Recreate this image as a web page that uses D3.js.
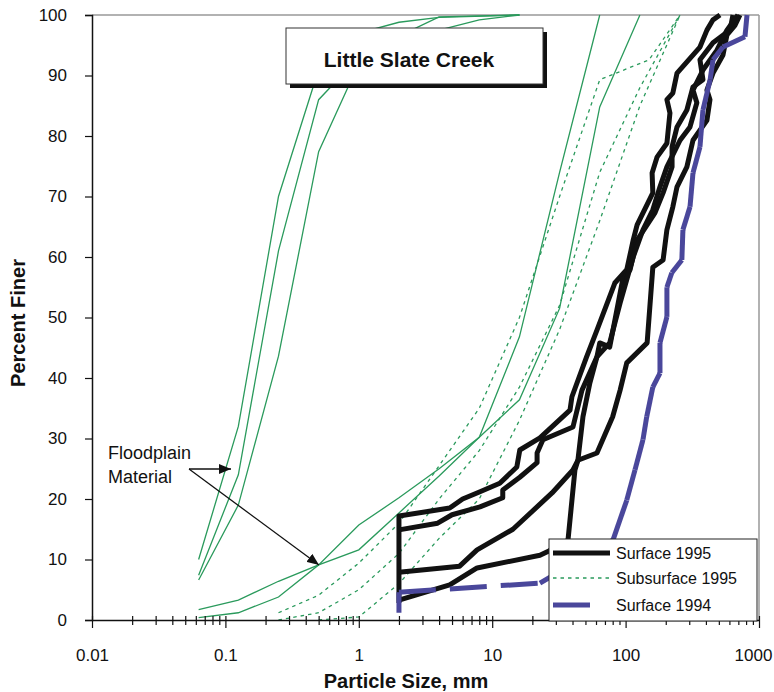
<!DOCTYPE html>
<html>
<head>
<meta charset="utf-8">
<script src="https://cdn.jsdelivr.net/npm/d3@7/dist/d3.min.js"></script>
<style>
  body { margin: 0; background: #fff; }
  svg { font-family: "Liberation Sans", Arial, sans-serif; }
</style>
</head>
<body>
<script>
// particle size (mm) vs percent finer

// floodplain material, fine (solid green)
var floodA = [[0.063,10],[0.125,32],[0.25,70],[0.5,91],[1,97],[2,98.8],[4,99.6],[16,100]];
var floodB = [[0.063,7.4],[0.125,24],[0.25,61],[0.5,86],[1,93],[2,96.5],[4,99.7],[16,100]];
var floodC = [[0.063,6.6],[0.125,19],[0.25,43.6],[0.5,77.4],[1,92],[2,95],[4,97.5],[8,99.2],[16,100]];
// floodplain material, coarse (solid green)
var floodD = [[0.063,1.7],[0.125,3.3],[0.25,6.4],[0.5,9.1],[1,15.7],[2,20.2],[4,25],[8,30.2],[16,46.8],[32,74],[64,100]];
var floodE = [[0.063,0.4],[0.125,1.2],[0.25,3.8],[0.5,9.1],[1,11.6],[2,17.7],[4,23.8],[8,30.2],[16,36.4],[32,51.5],[64,84.8],[128,100]];

// subsurface 1995 (dashed green)
var sub1 = [[0.25,1.2],[0.5,4.1],[1,9.4],[2,16],[4,25.5],[8,35],[16,50],[32,70],[64,89.3],[150,92.6],[256,100]];
var sub2 = [[0.25,0],[0.5,1.2],[1,5],[2,11],[4,20],[8,28],[16,38.5],[32,52],[64,74],[128,88],[256,100]];
var sub3 = [[0.5,0],[1,0.5],[2,6],[4,13.5],[8,20],[16,33],[32,48],[64,66],[128,85],[256,100]];

// surface 1995 (thick black)
var surf95a = [[2,2.8],[2,17.2],[4.8,18.5],[6,20],[8.1,21.2],[11.4,22.6],[15.3,25.3],[16.1,28.1],[22.8,30.1],[38.3,34.7],[39.6,36.9],[51,43.5],[61,47.9],[83,55.7],[102,57.9],[110,61.2],[114,62.8],[122,65.3],[160,70.6],[158,73.9],[172,76.5],[204,78.8],[215,83.8],[204,86],[226,87.1],[243,90.4],[361,94.7],[407,97.5],[452,99.2],[510,100]];
var surf95b = [[2,14.9],[3.9,16],[5,17.4],[8.1,18.7],[12,20.2],[12,21.5],[16.1,23.6],[21.7,26],[21.7,27.6],[24,29.8],[40.3,31.9],[47.1,38],[61,43.5],[64,45.8],[76,45.1],[95,56.2],[108,57.9],[122,62.8],[166,67.3],[191,70.6],[223,74.9],[223,78.2],[243,81.5],[288,84.3],[320,88.1],[380,89.3],[361,92.6],[452,95.4],[606,97.5],[638,100]];
var surf95c = [[2,7.9],[5.7,8.9],[7.7,11.6],[14.3,15],[28.1,21],[40.3,24.8],[43.9,26.4],[61,27.6],[80,33.6],[91,38],[102,42.5],[145,45.8],[160,58.3],[191,59.5],[204,64.5],[226,68.3],[243,71.6],[288,74.9],[320,79.3],[407,82.6],[429,86],[407,87.6],[452,90.4],[537,93.4],[575,96.7],[660,98.3],[720,100]];
var surf95d = [[2,3.3],[4.8,5.8],[7.7,8.6],[22.8,10.7],[26.6,11.4],[37,13.2],[39.6,19.8],[41.7,24.8],[43.9,26.4],[47.9,33.6],[54,39.2],[61,43.5],[76,45.8],[91,52.4],[114,60],[135,64.5],[160,67.8],[181,71.6],[204,74.9],[256,79.3],[304,81.5],[342,85.5],[320,87.6],[380,90.9],[484,94.2],[575,97.5],[695,100]];

// surface 1994 (thick blue, dashed)
var surf94 = [[2,1.2],[2,4.6],[22.8,6.1],[80.4,13.2],[102,19.8],[117.6,24.8],[135,29.8],[144,33.6],[160,38.5],[181,40.8],[181,45.8],[204,50.1],[204,55],[222,57.4],[264,59.5],[269,64.5],[304,68.3],[320,73.9],[361,78.2],[380,84.3],[430,89.3],[452,92.6],[537,94.7],[785,96.4],[813,100]];

var yTicks = [0,10,20,30,40,50,60,70,80,90,100];
var xLabels = [0.01,0.1,1,10,100,1000];
var legendNames = ["Surface 1995","Subsurface 1995","Surface 1994"];

var W = 774, H = 692;
var green = "#2a9a5c", blue = "#4a479b", black = "#111";
var font = "'Liberation Sans', Arial, sans-serif";

var svg = d3.select("body").append("svg").attr("width", W).attr("height", H);

var x = d3.scaleLog().domain([0.01, 1000]).range([92, 759]);
var y = d3.scaleLinear().domain([0, 100]).range([620, 15]);

// plot frame (grey top/right)
svg.append("line").attr("x1",92).attr("x2",759).attr("y1",15).attr("y2",15)
   .attr("stroke","#999").attr("stroke-width",1.5);
svg.append("line").attr("x1",759).attr("x2",759).attr("y1",15).attr("y2",620)
   .attr("stroke","#999").attr("stroke-width",1.5);

svg.append("clipPath").attr("id","clip").append("rect")
   .attr("x",92).attr("y",13).attr("width",668).attr("height",609);

var line = d3.line().x(function(d){ return x(d[0]); }).y(function(d){ return y(d[1]); });
var g = svg.append("g").attr("clip-path","url(#clip)");

[floodA, floodB, floodC, floodD, floodE].forEach(function(s){
  g.append("path").attr("d", line(s)).attr("fill","none")
   .attr("stroke", green).attr("stroke-width", 1.3);
});
[sub1, sub2, sub3].forEach(function(s){
  g.append("path").attr("d", line(s)).attr("fill","none")
   .attr("stroke", green).attr("stroke-width", 1.3).attr("stroke-dasharray","3.5,4");
});
[surf95a, surf95b, surf95c, surf95d].forEach(function(s){
  g.append("path").attr("d", line(s)).attr("fill","none")
   .attr("stroke", black).attr("stroke-width", 5).attr("stroke-linejoin","round");
});
// blue: the dash pattern only shows on the long steps, short steps look solid
for (var i = 1; i < surf94.length; i++) {
  var a = surf94[i-1], b = surf94[i];
  var len = Math.hypot(x(b[0]) - x(a[0]), y(b[1]) - y(a[1]));
  g.append("path").attr("d", line([a, b])).attr("fill","none")
   .attr("stroke", blue).attr("stroke-width", 5)
   .attr("stroke-dasharray", len > 60 ? "37,14" : null);
}

// y axis
var yAxis = svg.append("g").attr("transform","translate(92,0)")
  .call(d3.axisLeft(y).tickValues(yTicks).tickSize(7).tickPadding(18));
yAxis.select(".domain").attr("stroke","#111").attr("stroke-width",1.5);
yAxis.selectAll(".tick line").attr("stroke","#111").attr("stroke-width",1.2);
yAxis.selectAll("text").attr("font-size",17).attr("fill","#111").attr("font-family",font);

// x axis, log ticks crossing the axis
var minor = [];
for (var e = -2; e < 3; e++) for (var k = 1; k < 10; k++) minor.push(k * Math.pow(10, e));
minor.push(1000);
var xAxis = svg.append("g").attr("transform","translate(0,620)")
  .call(d3.axisBottom(x).tickValues(minor).tickSize(0).tickPadding(0)
        .tickFormat(function(d){ return xLabels.indexOf(d) >= 0 ? d3.format("~g")(d) : ""; }));
xAxis.select(".domain").attr("stroke","#111").attr("stroke-width",1.5);
xAxis.selectAll(".tick line").remove();
xAxis.selectAll(".tick").append("line")
  .attr("y1",-4).attr("y2", function(d){ return xLabels.indexOf(d) >= 0 ? 8 : 5; })
  .attr("stroke","#111").attr("stroke-width",1.2);
xAxis.selectAll("text").attr("y",41).attr("dy",null).attr("font-size",17).attr("fill","#111")
  .attr("font-family",font)
  .attr("x", function(d){ return d === 1000 ? -6 : 0; });

// axis titles
svg.append("text").attr("x",406).attr("y",688).attr("text-anchor","middle")
   .attr("font-size",20).attr("font-weight","bold").attr("fill","#111").text("Particle Size, mm");
svg.append("text").attr("transform","translate(25,323) rotate(-90)").attr("text-anchor","middle")
   .attr("font-size",20).attr("font-weight","bold").attr("fill","#111").text("Percent Finer");

// title box with shadow
svg.append("rect").attr("x",290).attr("y",32).attr("width",257).attr("height",56).attr("fill","#111");
svg.append("rect").attr("x",286).attr("y",28).attr("width",257).attr("height",56)
   .attr("fill","#fff").attr("stroke","#333").attr("stroke-width",1);
svg.append("text").attr("x",409).attr("y",67).attr("text-anchor","middle")
   .attr("font-size",21).attr("font-weight","bold").attr("fill","#111").text("Little Slate Creek");

// legend
var leg = svg.append("g");
leg.append("rect").attr("x",549).attr("y",539).attr("width",208).attr("height",82)
   .attr("fill","#fff").attr("stroke","#222").attr("stroke-width",1);
var legY = [553, 578, 605];
var legStyle = [
  {stroke: black, w: 5, dash: null},
  {stroke: green, w: 1.3, dash: "3.5,4"},
  {stroke: blue, w: 5, dash: "37,30"}
];
legendNames.forEach(function(n, i){
  leg.append("line").attr("x1",553).attr("x2",610).attr("y1",legY[i]).attr("y2",legY[i])
     .attr("stroke",legStyle[i].stroke).attr("stroke-width",legStyle[i].w)
     .attr("stroke-dasharray",legStyle[i].dash);
  leg.append("text").attr("x",616).attr("y",legY[i]+6).attr("font-size",16).attr("fill","#111").text(n);
});

// annotation
var defs = svg.append("defs");
defs.append("marker").attr("id","arr").attr("viewBox","0 0 12 10").attr("refX",12).attr("refY",5)
  .attr("markerWidth",12).attr("markerHeight",10).attr("markerUnits","userSpaceOnUse").attr("orient","auto")
  .append("path").attr("d","M0,0L12,5L0,10Z").attr("fill","#111");
svg.append("text").attr("x",108).attr("y",459).attr("font-size",18).attr("fill","#111").text("Floodplain");
svg.append("text").attr("x",108).attr("y",483).attr("font-size",18).attr("fill","#111").text("Material");
svg.append("line").attr("x1",189).attr("y1",469).attr("x2",231).attr("y2",469)
   .attr("stroke","#111").attr("stroke-width",1.3).attr("marker-end","url(#arr)");
svg.append("line").attr("x1",189).attr("y1",469).attr("x2",319).attr("y2",565)
   .attr("stroke","#111").attr("stroke-width",1.3).attr("marker-end","url(#arr)");
</script>
</body>
</html>
